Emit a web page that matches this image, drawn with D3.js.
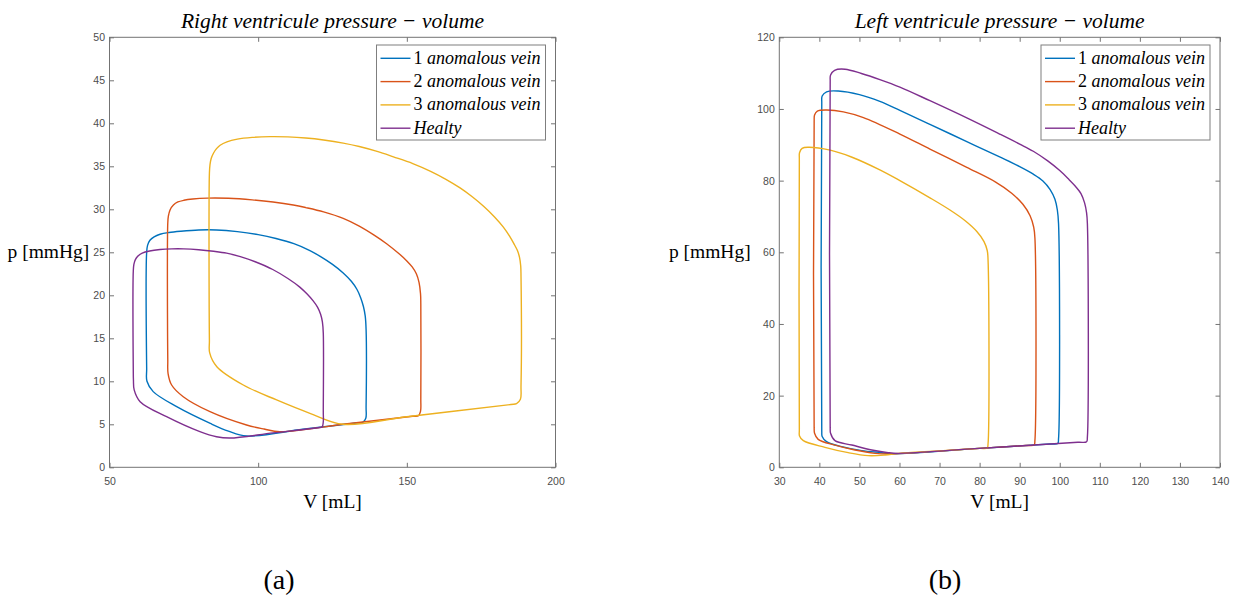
<!doctype html>
<html>
<head>
<meta charset="utf8">
<title>Ventricle pressure - volume</title>
<script src="https://cdn.jsdelivr.net/npm/d3@7"></script>
<style>
    body { margin: 0; background: #fff; }
    .tick text { font-family: "Liberation Sans", Arial, sans-serif; font-size: 10.5px; fill: #4d4d4d; }
    .tick line { stroke: #737373; }
    .serif { font-family: "Liberation Serif", "Times New Roman", serif; fill: #000; }
</style>
</head>
<body>
<svg id="fig" width="1236" height="598"></svg>
<script>
"use strict";
// legend labels (same order as the loops below)
const seriesNames = ["1 anomalous vein", "2 anomalous vein", "3 anomalous vein", "Healty"];

// right ventricle loops, [V mL, p mmHg]
const rvVein1 = [[96.1,3.64],[115,4.42],[133,5.15],[135.2,5.24],[136.2,5.7],[136.3,7],[136.3,16.0],[136.0,17.6],[135.4,18.7],[134.5,19.7],[133.2,20.7],[131.4,21.6],[128.6,22.6],[125,23.6],[121,24.5],[117.4,25.2],[112,26.0],[106,26.6],[100,27.05],[93,27.4],[86,27.6],[80,27.6],[74,27.45],[70,27.3],[67,27.1],[65,26.8],[63.6,26.4],[62.8,25.8],[62.5,25.0],[62.5,11.5],[62.6,10.0],[64.7,8.8],[72.6,7.05],[83.9,5.1],[90,4.2]];
const rvVein2 = [[107.3,4.14],[130,5.06],[152,5.93],[153.9,6.0],[154.6,6.5],[154.7,8],[154.7,19.0],[154.6,20.2],[154.1,21.5],[153.2,22.5],[151.8,23.3],[150,24.0],[147.5,24.8],[143.2,26.0],[139,27.0],[134,28.05],[128.6,28.95],[122,29.7],[116,30.2],[111.8,30.5],[105,30.85],[98,31.1],[90,31.28],[83,31.3],[78,31.2],[75,31.05],[73,30.85],[71.5,30.5],[70.4,29.95],[69.8,29.2],[69.6,28.4],[69.6,12.5],[69.7,10.9],[70.9,9.57],[74.8,8.21],[83.8,6.47],[96.1,4.92],[102,4.45]];
const rvVein3 = [[128.6,5.0],[150,5.88],[185,7.3],[186.9,7.4],[188.2,7.9],[188.4,9.5],[188.4,22.2],[188.3,23.4],[187.9,24.4],[187.2,25.2],[186.0,26.0],[184.5,26.9],[182.4,27.95],[179.5,29.11],[176,30.3],[172,31.46],[167.9,32.49],[163,33.52],[158,34.42],[152,35.32],[145.5,36.1],[140,36.73],[134,37.3],[128.6,37.7],[122,38.06],[116,38.29],[110,38.42],[104,38.45],[98,38.36],[93,38.16],[89.5,37.85],[87.2,37.45],[86.0,37.05],[85.0,36.55],[84.2,35.9],[83.8,35.2],[83.6,34.2],[83.6,14.8],[83.7,13.3],[86.1,11.7],[95.0,9.57],[106.2,7.83],[117.4,6.28]];
const rvHealthy = [[90.5,3.4],[105,4.0],[120,4.6],[121.5,4.7],[121.9,5.3],[121.9,6.5],[121.9,15.6],[121.6,16.9],[121,17.8],[120,18.6],[118.5,19.35],[116.3,20.2],[114,20.95],[110,21.95],[104.9,23.0],[99,23.9],[94,24.5],[89.4,24.9],[85,25.12],[80,25.3],[75,25.4],[71,25.4],[67,25.32],[63.5,25.15],[61,24.9],[59.5,24.55],[58.7,24.15],[58.2,23.6],[58.0,22.8],[58.0,11.2],[58.05,10.15],[58.3,9.0],[60.3,7.63],[69.2,5.88],[80.4,4.14],[86,3.55]];

// left ventricle loops, [V mL, p mmHg]
const lvVein1 = [[58,3.75],[80,5.28],[97.5,6.5],[99.5,6.64],[99.7,8],[99.7,68],[99.4,71.8],[98.8,74.8],[97.6,77.5],[95.8,79.9],[93.4,81.8],[90,83.9],[85,86.6],[76.8,90.9],[67.6,95.7],[60.1,99.6],[55.1,102.1],[50,104.0],[44.7,105.0],[41.8,104.8],[40.7,103.6],[40.6,101.5],[40.6,10],[40.7,8.6],[41.8,7.15],[45.6,5.76],[50.6,4.64],[55.6,4.08]];
const lvVein2 = [[57.2,3.7],[75,4.93],[91.5,6.08],[93.6,6.23],[93.8,7.5],[93.8,64],[93.5,67],[92.6,70.2],[90.8,73.4],[88,76.5],[84,79.6],[76.8,83.7],[67.6,88.8],[60.1,93.0],[51,97.6],[46,99.2],[41.8,99.7],[39.5,99.4],[38.8,98.3],[38.7,96.5],[38.7,11],[38.8,9.5],[39.7,7.8],[43.9,6.2],[48.9,4.83],[53.9,3.9]];
const lvVein3 = [[59.7,3.9],[70,4.59],[80,5.28],[81.9,5.41],[82.1,6.5],[82.1,58],[81.9,60.5],[81.1,63.0],[79.3,65.8],[76.4,68.8],[72.6,71.8],[67.6,75.2],[60.1,80.0],[55.1,83.0],[48,86.6],[42.7,88.5],[37.2,89.3],[35.7,89.0],[35.05,87.8],[35.0,86],[35.0,10.5],[35.05,8.74],[36.0,7.43],[41.4,5.58],[47.2,4.08],[52.2,3.25],[56.4,3.43]];
const lvHealthy = [[59.7,3.9],[80,5.28],[104.5,6.98],[106.7,7.14],[106.9,8.5],[106.9,68],[106.7,71],[106.2,73.8],[105.3,76.4],[104,78.3],[102.3,80.3],[100,82.8],[97,85.5],[93.4,88.2],[90,90.2],[85,93.0],[76.8,97.5],[67.6,102.3],[60.1,106.1],[55.1,108.2],[50.5,109.9],[46.4,111.1],[43.8,110.8],[42.8,109.5],[42.7,107.5],[42.7,11],[42.8,9.5],[43.9,7.43],[48.1,6.22],[53.1,4.83],[57.2,4.08]];

// axes
const rvXTicks = [50, 100, 150, 200];
const rvYTicks = [0, 5, 10, 15, 20, 25, 30, 35, 40, 45, 50];
const lvXTicks = [30, 40, 50, 60, 70, 80, 90, 100, 110, 120, 130, 140];
const lvYTicks = [0, 20, 40, 60, 80, 100, 120];

const colors = ["#0072BD", "#D95319", "#EDB120", "#7E2F8E"];
const tickLen = 4.5;

var svg = d3.select("#fig");

function drawPanel(p){
    const x = d3.scaleLinear().domain(p.xDomain).range([p.left, p.right]);
    const y = d3.scaleLinear().domain(p.yDomain).range([p.bottom, p.top]);
    const g = svg.append("g");

    g.append("g").attr("transform", "translate(0," + p.bottom + ")")
        .call(d3.axisBottom(x).tickValues(p.xTicks).tickSize(-tickLen).tickPadding(10));
    g.append("g").attr("transform", "translate(0," + p.top + ")")
        .call(d3.axisTop(x).tickValues(p.xTicks).tickSize(-tickLen).tickFormat(""));
    g.append("g").attr("transform", "translate(" + p.left + ",0)")
        .call(d3.axisLeft(y).tickValues(p.yTicks).tickSize(-tickLen).tickPadding(4.5));
    g.append("g").attr("transform", "translate(" + p.right + ",0)")
        .call(d3.axisRight(y).tickValues(p.yTicks).tickSize(-tickLen).tickFormat(""));
    g.selectAll(".domain").remove();

    g.append("rect")
        .attr("x", p.left).attr("y", p.top)
        .attr("width", p.right - p.left).attr("height", p.bottom - p.top)
        .attr("fill", "none").attr("stroke", "#737373").attr("stroke-width", 1);

    const line = d3.line()
        .x(d => x(d[0]))
        .y(d => y(d[1]))
        .curve(d3.curveCatmullRomClosed.alpha(0.5));

    g.selectAll("path.loop")
        .data(p.loops)
        .enter()
        .append("path")
        .attr("class", "loop")
        .attr("d", d => line(d))
        .attr("fill", "none")
        .attr("stroke", (d, i) => colors[i])
        .attr("stroke-width", 1.4);

    // title
    g.append("text").attr("class", "serif")
        .attr("x", (p.left + p.right) / 2).attr("y", 28)
        .attr("text-anchor", "middle").attr("font-size", 21.5).attr("font-style", "italic")
        .text(p.title);
    // axis labels
    g.append("text").attr("class", "serif")
        .attr("x", (p.left + p.right) / 2).attr("y", 508)
        .attr("text-anchor", "middle").attr("font-size", 19.5)
        .text("V [mL]");
    g.append("text").attr("class", "serif")
        .attr("x", p.yLabelX).attr("y", 257.5)
        .attr("text-anchor", "end").attr("font-size", 19.5)
        .text("p [mmHg]");

    // legend
    const lg = g.append("g").attr("transform", "translate(" + (p.right - 179) + ",45)");
    lg.append("rect").attr("width", 169).attr("height", 95)
        .attr("fill", "#fff").attr("stroke", "#7f7f7f");
    seriesNames.forEach((name, i) => {
        const cy = 13.3 + i * 23.3;
        lg.append("line").attr("x1", 4).attr("x2", 34).attr("y1", cy).attr("y2", cy)
            .attr("stroke", colors[i]).attr("stroke-width", 1.4);
        const t = lg.append("text").attr("class", "serif")
            .attr("x", 37).attr("y", cy + 5.5).attr("font-size", 18);
        const m = name.match(/^(\d+) (.*)$/);
        if(m){
            t.append("tspan").text(m[1] + " ");
            t.append("tspan").attr("font-style", "italic").text(m[2]);
        } else {
            t.append("tspan").attr("font-style", "italic").text(name);
        }
    });

    // sub caption
    g.append("text").attr("class", "serif")
        .attr("x", p.captionX).attr("y", 589)
        .attr("text-anchor", "middle").attr("font-size", 28)
        .text(p.caption);
}

drawPanel({
    left: 109.5, right: 555.5, top: 37.3, bottom: 467.3,
    xDomain: [50, 200], yDomain: [0, 50],
    xTicks: rvXTicks, yTicks: rvYTicks,
    loops: [rvVein1, rvVein2, rvVein3, rvHealthy],
    title: "Right ventricule pressure \u2212 volume",
    yLabelX: 89.3, caption: "(a)", captionX: 279
});

drawPanel({
    left: 779.3, right: 1220, top: 37.3, bottom: 467.3,
    xDomain: [30, 140], yDomain: [0, 120],
    xTicks: lvXTicks, yTicks: lvYTicks,
    loops: [lvVein1, lvVein2, lvVein3, lvHealthy],
    title: "Left ventricule pressure \u2212 volume",
    yLabelX: 750.7, caption: "(b)", captionX: 945
});
</script>
</body>
</html>
